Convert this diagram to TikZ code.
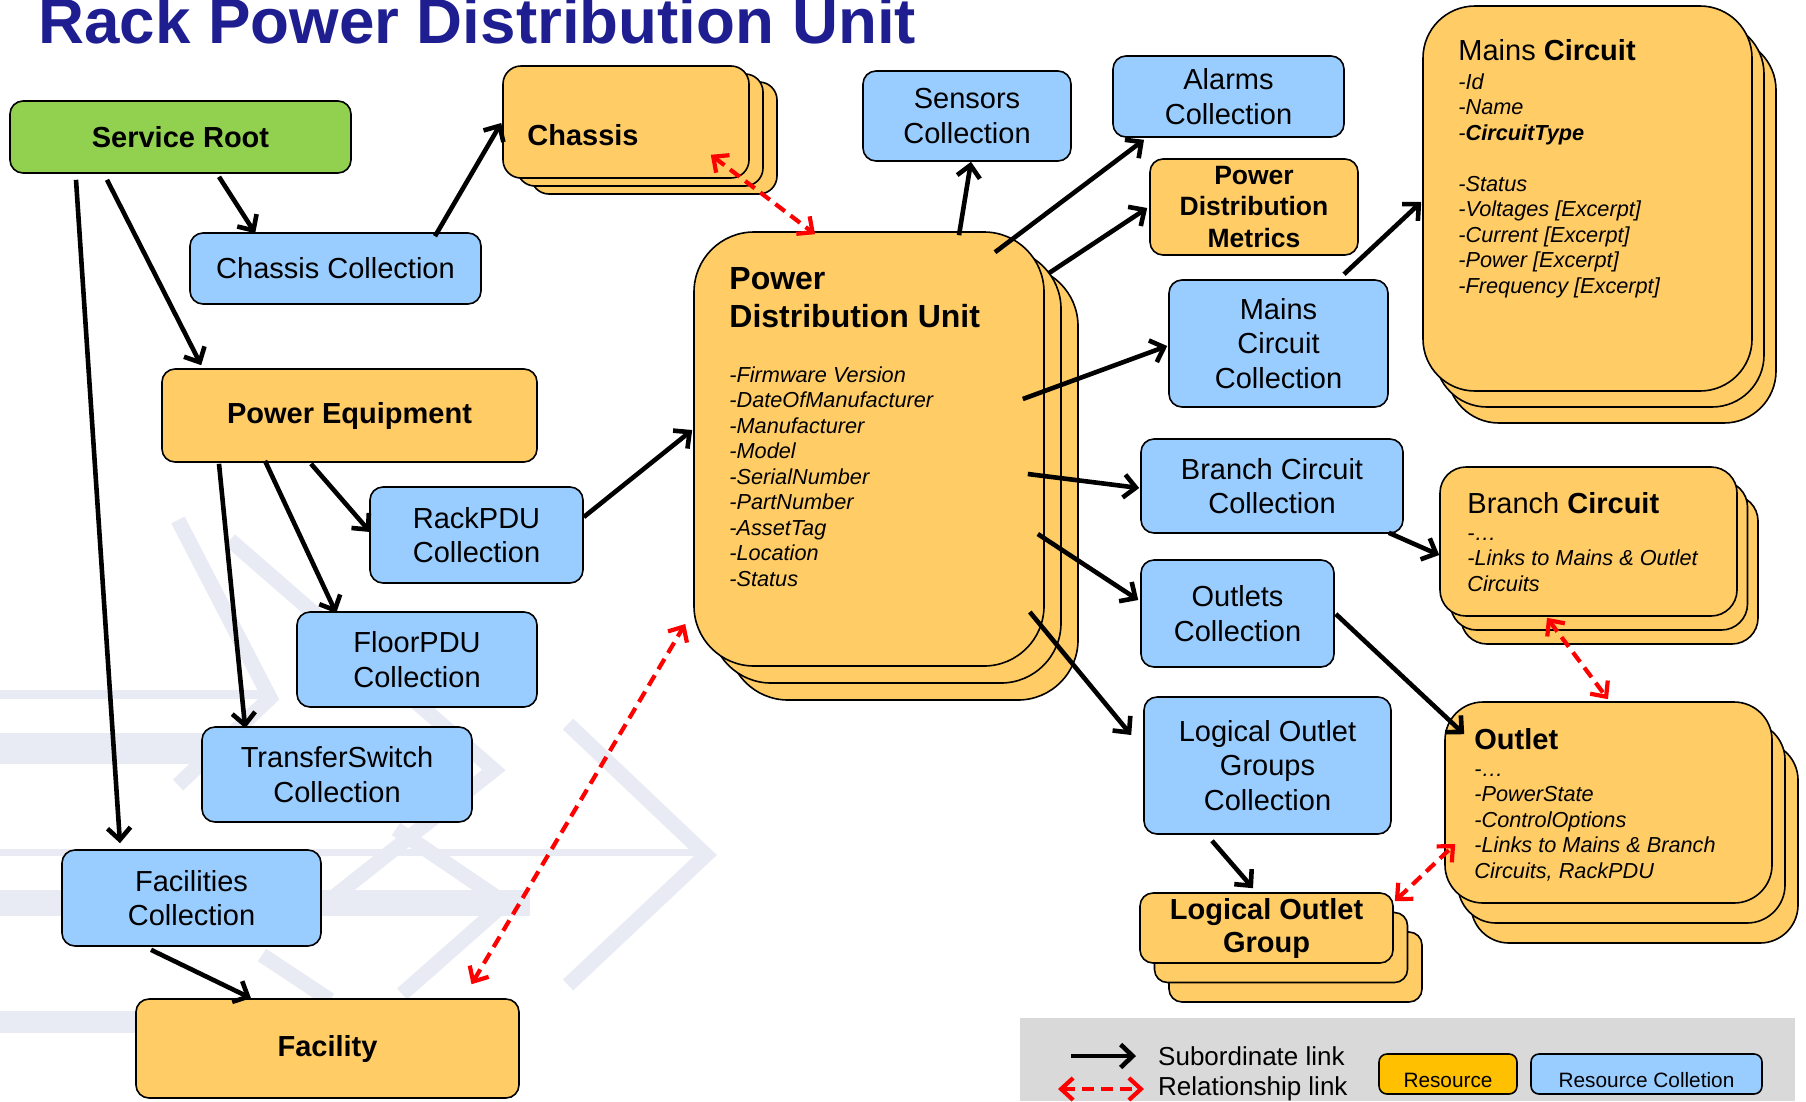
\documentclass[tikz,border=0pt]{standalone}
\usepackage{fontspec}
\setmainfont{Liberation Sans}
\usetikzlibrary{arrows.meta,shadows}

\definecolor{resorange}{RGB}{255,204,102}
\definecolor{collblue}{RGB}{153,204,255}
\definecolor{rootgreen}{RGB}{146,208,80}
\definecolor{legorange}{RGB}{255,192,0}
\definecolor{leggray}{RGB}{217,217,217}
\definecolor{titleblue}{RGB}{30,30,145}
\definecolor{wmark}{RGB}{233,235,244}

\begin{document}
\begin{tikzpicture}[x=1pt, y=-1pt,
    nbox/.style={draw=black, line width=1.6pt, rounded corners=13pt, inner sep=0pt, align=center},
    coll/.style={nbox, fill=collblue, font={\fontsize{29}{34.5}\selectfont}},
    res/.style={nbox, fill=resorange, font={\bfseries\fontsize{29}{34.5}\selectfont}},
    stacked/.style args={#1/#2}{double copy shadow={shadow xshift=#1, shadow yshift=#2, fill=resorange, draw=black, line width=1.6pt}},
    head/.style={anchor=base west, inner sep=0pt, align=left, font={\fontsize{29}{34.5}\selectfont}},
    attr/.style={anchor=base west, inner sep=0pt, align=left, font={\itshape\fontsize{21.7}{25.5}\selectfont}},
    sub/.style={line width=4.6pt, -{Straight Barb[length=12pt, width=23pt]}},
    rel/.style={red, line width=4.2pt, dash pattern=on 12pt off 7pt,
      {Straight Barb[length=12pt, width=22pt]}-{Straight Barb[length=12pt, width=22pt]}}
]
\useasboundingbox (0,0) rectangle (1806,1101);

% watermark
\begin{scope}[wmark, line width=15pt]
  \fill (0,690) rectangle (270,699);
  \fill (0,733) rectangle (420,764);
  \fill (0,849) rectangle (706,856);
  \fill (0,890) rectangle (530,916);
  \fill (0,1011) rectangle (140,1033);
  \draw (178,520) -- (270,698) -- (178,785);
  \draw (230,540) -- (494,770) -- (330,900);
  \draw (568,724) -- (706,855) -- (568,985);
  \draw (396,829) -- (505,903) -- (402,994);
  \draw (262,955) -- (330,1000);
\end{scope}

\node[anchor=base west, inner sep=0pt, text=titleblue, font={\bfseries\fontsize{63.7}{70}\selectfont}] (title) at (38,43) {Rack Power Distribution Unit};

% left column
\node[res, fill=rootgreen, minimum width=341pt, minimum height=72pt] (sroot) at (180.5,137) {Service Root};
\node[coll, minimum width=291pt, minimum height=71pt] (chcoll) at (335.5,268.5) {Chassis Collection};
\node[res, minimum width=375pt, minimum height=93pt] (peq) at (349.5,415.5) {Power Equipment};
\node[coll, minimum width=213pt, minimum height=96pt] (rackcoll) at (476.5,535) {RackPDU\\Collection};
\node[coll, minimum width=240pt, minimum height=95pt] (floorcoll) at (417,659.5) {FloorPDU\\Collection};
\node[coll, minimum width=270pt, minimum height=95pt] (tscoll) at (337,774.5) {TransferSwitch\\Collection};
\node[coll, minimum width=259pt, minimum height=96pt] (faccoll) at (191.5,898) {Facilities\\Collection};
\node[res, minimum width=383pt, minimum height=99pt] (facility) at (327.5,1048.5) {Facility};

% chassis
\node[res, stacked=14pt/-8pt, rounded corners=18pt, minimum width=246pt, minimum height=112pt] (chassis) at (626,122) {};
\node[head, font={\bfseries\fontsize{29}{34.5}\selectfont}] (chassislbl) at ([shift={(25,23)}]chassis.west) {Chassis};

% power distribution unit (base anchor = last line)
\node[res, stacked=17pt/-17pt, rounded corners=60pt, minimum width=350pt, minimum height=434pt] (pdu) at (869,449) {};
\node[head, font={\bfseries\fontsize{32}{38}\selectfont}] (pdutitle) at ([shift={(36,96)}]pdu.north west) {Power\\Distribution Unit};
\node[attr] (pduattr) at ([shift={(36,355)}]pdu.north west) {-Firmware Version\\-DateOfManufacturer\\-Manufacturer\\-Model\\-SerialNumber\\-PartNumber\\-AssetTag\\-Location\\-Status};

% collections right of the unit
\node[coll, minimum width=208pt, minimum height=90pt] (sensors) at (967,116) {Sensors\\Collection};
\node[coll, minimum width=231pt, minimum height=81pt] (alarms) at (1228.5,96.5) {Alarms\\Collection};
\node[res, minimum width=208pt, minimum height=96pt, font={\bfseries\fontsize{26.5}{31.5}\selectfont}] (pdm) at (1254,207) {Power\\Distribution\\Metrics};
\node[coll, minimum width=219pt, minimum height=127pt] (mccoll) at (1278.5,343.5) {Mains\\Circuit\\Collection};
\node[coll, minimum width=262pt, minimum height=94pt] (bccoll) at (1272,486) {Branch Circuit\\Collection};
\node[coll, minimum width=193pt, minimum height=107pt] (outcoll) at (1237.5,613.5) {Outlets\\Collection};
\node[coll, minimum width=247pt, minimum height=137pt] (logcoll) at (1267.5,765.5) {Logical Outlet\\Groups\\Collection};
\node[res, stacked=14.5pt/-19.5pt, minimum width=253pt, minimum height=70pt, font={\bfseries\fontsize{29}{33}\selectfont}] (loggrp) at (1266.5,928) {Logical Outlet\\Group};

% circuits and outlets
\node[res, stacked=12pt/-16pt, rounded corners=52pt, minimum width=329pt, minimum height=385pt] (mains) at (1587.5,198.5) {};
\node[head] (mainstitle) at ([shift={(36,55)}]mains.north west) {Mains \textbf{Circuit}};
\node[attr] (mainsattr) at ([shift={(36,288)}]mains.north west) {-Id\\-Name\\-\textbf{CircuitType}\\ \\-Status\\-Voltages [Excerpt]\\-Current [Excerpt]\\-Power [Excerpt]\\-Frequency [Excerpt]};

\node[res, stacked=10.5pt/-14pt, rounded corners=26pt, minimum width=297pt, minimum height=149pt] (branch) at (1588.5,541.5) {};
\node[head] (branchtitle) at ([shift={(28,47)}]branch.north west) {Branch \textbf{Circuit}};
\node[attr] (branchattr) at ([shift={(28,125)}]branch.north west) {-…\\-Links to Mains \& Outlet\\Circuits};

\node[res, stacked=13pt/-20pt, rounded corners=38pt, minimum width=327pt, minimum height=201pt] (outlet) at (1608.5,802.5) {};
\node[head, font={\bfseries\fontsize{29}{34.5}\selectfont}] (outlettitle) at ([shift={(30,48)}]outlet.north west) {Outlet};
\node[attr] (outletattr) at ([shift={(30,177)}]outlet.north west) {-…\\-PowerState\\-ControlOptions\\-Links to Mains \& Branch\\Circuits, RackPDU};

% subordinate links
\draw[sub] ([shift={(38.5,3)}]sroot.south) -- ([shift={(66,1)}]chcoll.north west);
\draw[sub] ([shift={(-73.5,6)}]sroot.south) -- ([shift={(40,-3)}]peq.north west);
\draw[sub] ([shift={(-104.5,6)}]sroot.south) -- ([shift={(-71.5,-6)}]faccoll.north);
\draw[sub] ([shift={(99.5,4)}]chcoll.north) -- ([shift={(-1,1)}]chassis.west);
\draw[sub] ([shift={(-38.5,1)}]peq.south) -- ([shift={(1,-3)}]rackcoll.west);
\draw[sub] ([shift={(-84.5,-2)}]peq.south) -- ([shift={(40,2)}]floorcoll.north west);
\draw[sub] ([shift={(-130.5,1)}]peq.south) -- ([shift={(44,2)}]tscoll.north west);
\draw[sub] ([shift={(-40.5,3)}]faccoll.south) -- ([shift={(-76.5,0)}]facility.north);
\draw[sub] ([shift={(0,-18)}]rackcoll.east) -- ([shift={(-1,-19)}]pdu.west);
\draw[sub] ([shift={(90,4)}]pdu.north) -- ([shift={(4,0)}]sensors.south);
\draw[sub] ([shift={(126,21)}]pdu.north) -- ([shift={(-84.5,2)}]alarms.south);
\draw[sub] ([shift={(4,42)}]pdu.north east) -- ([shift={(-2,1)}]pdm.west);
\draw[sub] ([shift={(-22,-50)}]pdu.east) -- ([shift={(-1,2.5)}]mccoll.west);
\draw[sub] ([shift={(-17,25)}]pdu.east) -- ([shift={(-1,2)}]bccoll.west);
\draw[sub] ([shift={(-7,85)}]pdu.east) -- ([shift={(-2,-13.5)}]outcoll.west);
\draw[sub] ([shift={(-15,163)}]pdu.east) -- ([shift={(-12,-30.5)}]logcoll.west);
\draw[sub] ([shift={(65.5,-5)}]mccoll.north) -- ([shift={(-1,3.5)}]mains.west);
\draw[sub] ([shift={(-15,-1)}]bccoll.south east) -- ([shift={(0,13.5)}]branch.west);
\draw[sub] ([shift={(1,0.5)}]outcoll.east) -- ([shift={(20,33)}]outlet.north west);
\draw[sub] ([shift={(-55.5,6)}]logcoll.south) -- ([shift={(-13.5,-4)}]loggrp.north);

% relationship links
\draw[rel] ([shift={(-39,-24)}]chassis.south east) -- ([shift={(-54,3)}]pdu.north);
\draw[rel] ([shift={(-48.3,-14)}]facility.north east) -- ([shift={(-8,175)}]pdu.west);
\draw[rel] ([shift={(-41.5,1)}]branch.south) -- ([shift={(-0.5,-2)}]outlet.north);
\draw[rel] ([shift={(1,9)}]loggrp.north east) -- ([shift={(11,41.5)}]outlet.west);

% legend
\fill[leggray] (1020,1018) rectangle (1795,1101);
\coordinate (subA) at (1071,1056);
\coordinate (subB) at (1136,1056);
\draw[sub] (subA) -- (subB);
\node[anchor=west, inner sep=0pt, font={\fontsize{26}{30}\selectfont}] (sublbl) at (1158,1056) {Subordinate link};
\coordinate (relA) at (1058,1089);
\coordinate (relB) at (1144,1089);
\draw[rel] (relA) -- (relB);
\node[anchor=west, inner sep=0pt, font={\fontsize{26}{30}\selectfont}] (rellbl) at (1158,1089) {Relationship link};
\node[nbox, fill=legorange, rounded corners=8pt, minimum width=138pt, minimum height=40pt, text height=27pt, text depth=0pt, font={\fontsize{20.8}{24}\selectfont}] (legres) at (1448,1074) {Resource};
\node[nbox, fill=collblue, rounded corners=8pt, minimum width=231pt, minimum height=40pt, text height=27pt, text depth=0pt, font={\fontsize{20.8}{24}\selectfont}] (legcoll) at (1646.5,1074) {Resource Colletion};

\end{tikzpicture}
\end{document}
